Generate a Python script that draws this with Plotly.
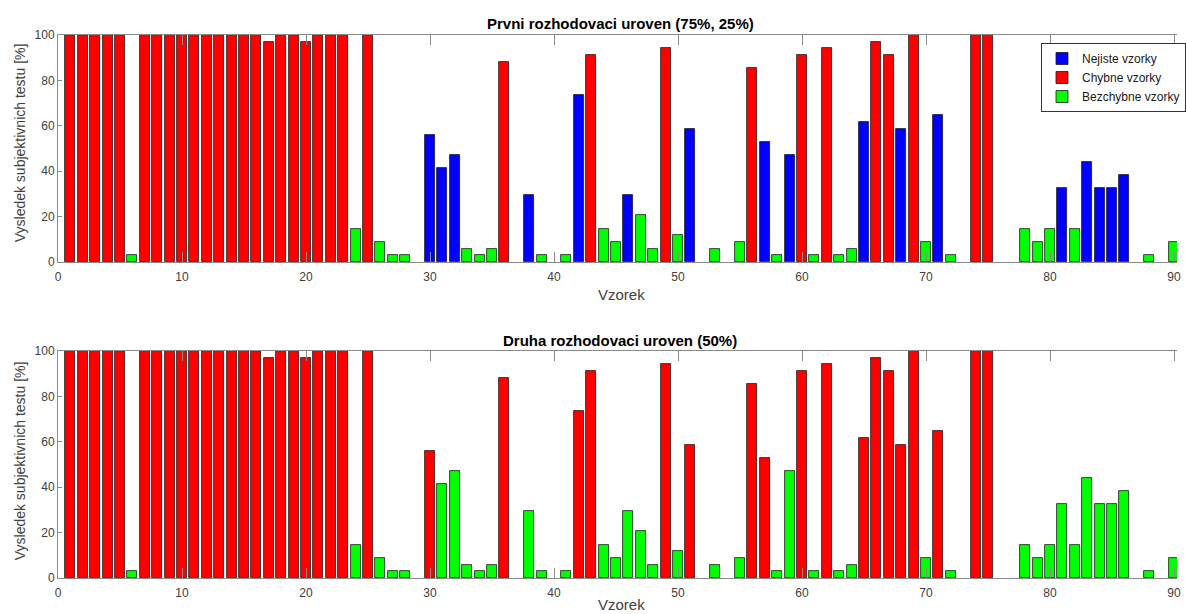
import plotly.graph_objects as go

# Sample index 1..90
samples = list(range(1, 91))

# Result of subjective tests [%] per sample (0 = no bar)
values = [
    100, 100, 100, 100, 100, 2.9, 100, 100, 100, 100,
    100, 100, 100, 100, 100, 100, 97.1, 100, 100, 97.1,
    100, 100, 100, 14.7, 100, 8.8, 2.9, 2.9, 0, 55.9,
    41.2, 47.1, 5.9, 2.9, 5.9, 88.2, 0, 29.4, 2.9, 0,
    2.9, 73.5, 91.2, 14.7, 8.8, 29.4, 20.6, 5.9, 94.1, 11.8,
    58.8, 0, 5.9, 0, 8.8, 85.3, 52.9, 2.9, 47.1, 91.2,
    2.9, 94.1, 2.9, 5.9, 61.8, 97.1, 91.2, 58.8, 100, 8.8,
    64.7, 2.9, 0, 100, 100, 0, 0, 14.7, 8.8, 14.7,
    32.4, 14.7, 44.1, 32.4, 32.4, 38.2, 0, 2.9, 0, 8.8,
]

# Class per sample: N = Nejiste, C = Chybne, B = Bezchybne, - = none
class_top = list(
    "CCCCCBCCCC"
    "CCCCCCCCCC"
    "CCCBCBBB-N"
    "NNBBBC-NB-"
    "BNCBBNBBCB"
    "N-B-BCNBNC"
    "BCBBNCCNCB"
    "NB-CC--BBB"
    "NBNNNN-B-B"
)
class_bottom = list(
    "CCCCCBCCCC"
    "CCCCCCCCCC"
    "CCCBCBBB-C"
    "BBBBBC-BB-"
    "BCCBBBBBCB"
    "C-B-BCCBBC"
    "BCBBCCCCCB"
    "CB-CC--BBB"
    "BBBBBB-B-B"
)

series_names = {"N": "Nejiste vzorky", "C": "Chybne vzorky", "B": "Bezchybne vzorky"}
series_colors = {"N": "#0000FF", "C": "#FF0000", "B": "#00FF00"}
order = ["N", "C", "B"]

titles = ["Prvni rozhodovaci uroven (75%, 25%)", "Druha rozhodovaci uroven (50%)"]
x_label = "Vzorek"
y_label = "Vysledek subjektivnich testu [%]"
x_ticks = [0, 10, 20, 30, 40, 50, 60, 70, 80, 90]
y_ticks = [0, 20, 40, 60, 80, 100]

FONT = "Liberation Sans, Arial, Helvetica, sans-serif"
AXIS_COLOR = "#8a8a8a"
TICK_FONT_COLOR = "#404040"

fig = go.Figure()

for panel, classes in enumerate([class_top, class_bottom]):
    xa = "x" if panel == 0 else "x2"
    ya = "y" if panel == 0 else "y2"
    for key in order:
        xs = [s for s, c in zip(samples, classes) if c == key]
        ys = [v for v, c in zip(values, classes) if c == key]
        fig.add_trace(go.Bar(
            x=xs, y=ys, width=0.8,
            name=series_names[key],
            marker=dict(color=series_colors[key], line=dict(color="#1a1a1a", width=0.8)),
            xaxis=xa, yaxis=ya,
            showlegend=(panel == 0),
        ))

axis_common = dict(
    showgrid=False, zeroline=False, showline=True, linecolor=AXIS_COLOR, linewidth=1,
    ticks="inside", tickcolor=AXIS_COLOR, tickwidth=1,
    tickfont=dict(family=FONT, size=12, color=TICK_FONT_COLOR),
)

# Layout in pixels: plot area x 58..1186; top panel y 35..262; bottom panel y 351..578
W, H = 1186, 614
ml, mr, mt, mb = 58, 0, 35, 36
ph = H - mt - mb


def ydom(top_px, bottom_px):
    return [(H - mb - bottom_px) / ph, (H - mb - top_px) / ph]


fig.update_layout(
    width=W, height=H,
    margin=dict(l=ml, r=mr, t=mt, b=mb),
    paper_bgcolor="white", plot_bgcolor="white",
    barmode="overlay", bargap=0,
    font=dict(family=FONT, color=TICK_FONT_COLOR),
    xaxis=dict(domain=[0, 1], range=[0, 90.24], tickvals=x_ticks, mirror="ticks",
               anchor="y", ticklen=10, ticklabelstandoff=4, **axis_common),
    yaxis=dict(domain=ydom(35, 262), range=[0, 100], tickvals=y_ticks, anchor="x",
               ticklen=4, **axis_common),
    xaxis2=dict(domain=[0, 1], range=[0, 90.24], tickvals=x_ticks, mirror="ticks",
                anchor="y2", ticklen=10, ticklabelstandoff=4, **axis_common),
    yaxis2=dict(domain=ydom(351, 578), range=[0, 100], tickvals=y_ticks, anchor="x2",
                ticklen=4, **axis_common),
    legend=dict(
        x=(1049 - ml) / (W - ml), y=ydom(43, 43)[1], xanchor="left", yanchor="top",
        bgcolor="white", bordercolor="#333333", borderwidth=1,
        font=dict(family=FONT, size=12, color="#1a1a1a"),
        itemwidth=30, tracegroupgap=0, traceorder="normal",
    ),
    showlegend=True,
)


def px_to_paper_y(py):
    return (H - mb - py) / ph


def px_to_paper_x(px):
    return (px - ml) / (W - ml)


annotations = []
for title, ty in zip(titles, [23, 340]):
    annotations.append(dict(
        text="<b>%s</b>" % title, x=px_to_paper_x(625), y=px_to_paper_y(ty),
        xref="paper", yref="paper", showarrow=False, xanchor="center", yanchor="middle",
        font=dict(family=FONT, size=15, color="#000000"),
    ))
for xy in [294, 604]:
    annotations.append(dict(
        text=x_label, x=px_to_paper_x(626), y=px_to_paper_y(xy),
        xref="paper", yref="paper", showarrow=False, xanchor="center", yanchor="middle",
        font=dict(family=FONT, size=15, color=TICK_FONT_COLOR),
    ))
for cy in [143, 461]:
    annotations.append(dict(
        text=y_label, x=px_to_paper_x(20), y=px_to_paper_y(cy), textangle=-90,
        xref="paper", yref="paper", showarrow=False, xanchor="center", yanchor="middle",
        font=dict(family=FONT, size=14, color=TICK_FONT_COLOR),
    ))
fig.update_layout(annotations=annotations)

fig.write_html("out.html")
